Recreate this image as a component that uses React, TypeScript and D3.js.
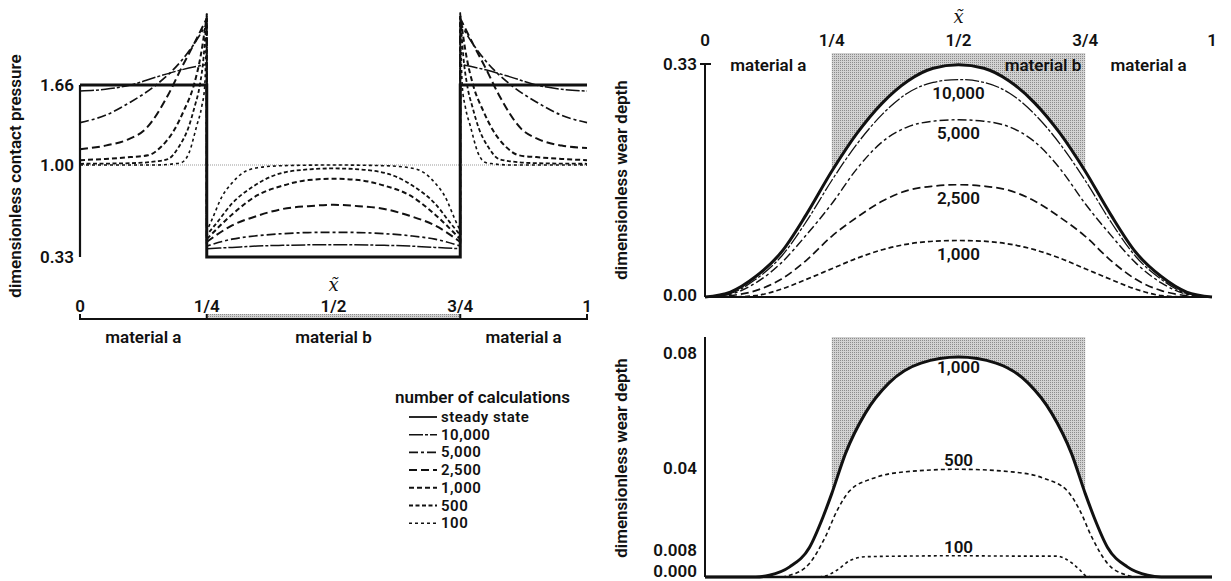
import React from "react";
import * as d3 from "d3";

type Pt = [number, number];

// Position along the contact, as a fraction of its length
const fractionTicks = [0, 0.25, 0.5, 0.75, 1];
const fractionLabels = ["0", "1/4", "1/2", "3/4", "1"];

const pressureTicks = [1.66, 1.0, 0.33];
const pressureTickLabels = ["1.66", "1.00", "0.33"];

const wearTopTicks = [0.33, 0.0];
const wearTopTickLabels = ["0.33", "0.00"];
const wearBottomTicks = [0.08, 0.04, 0.008, 0.0];
const wearBottomTickLabels = ["0.08", "0.04", "0.008", "0.000"];

const legendLabels = ["steady state", "10,000", "5,000", "2,500", "1,000", "500", "100"];

// Contact pressure: [material a (left), material b, material a (right)]
const pSteady: Pt[][] = [
  [[0, 1.66], [0.25, 1.66]],
  [[0.25, 0.33], [0.75, 0.33]],
  [[0.75, 1.66], [1, 1.66]],
];
const p10000: Pt[][] = [
  [[0, 1.61], [0.05, 1.625], [0.1, 1.66], [0.15, 1.725], [0.2, 1.785], [0.25, 1.83]],
  [[0.25, 0.39], [0.3, 0.4], [0.35, 0.41], [0.4, 0.415], [0.5, 0.42], [0.6, 0.415], [0.65, 0.41], [0.7, 0.4], [0.75, 0.39]],
  [[0.75, 1.83], [0.8, 1.785], [0.85, 1.725], [0.9, 1.66], [0.95, 1.625], [1, 1.61]],
];
const p5000: Pt[][] = [
  [[0, 1.35], [0.05, 1.41], [0.1, 1.52], [0.15, 1.66], [0.2, 1.86], [0.23, 2.03], [0.25, 2.17]],
  [[0.25, 0.41], [0.3, 0.46], [0.35, 0.485], [0.4, 0.5], [0.45, 0.508], [0.5, 0.51], [0.55, 0.508], [0.6, 0.5], [0.65, 0.485], [0.7, 0.46], [0.75, 0.41]],
  [[0.75, 2.17], [0.77, 2.03], [0.8, 1.86], [0.85, 1.66], [0.9, 1.52], [0.95, 1.41], [1, 1.35]],
];
const p2500: Pt[][] = [
  [[0, 1.13], [0.05, 1.16], [0.094, 1.21], [0.13, 1.3], [0.174, 1.58], [0.2, 1.8], [0.225, 2.0], [0.25, 2.21]],
  [[0.25, 0.44], [0.3, 0.56], [0.35, 0.63], [0.4, 0.68], [0.45, 0.7], [0.5, 0.71], [0.55, 0.7], [0.6, 0.68], [0.65, 0.63], [0.7, 0.56], [0.75, 0.44]],
  [[0.75, 2.21], [0.775, 2.0], [0.8, 1.8], [0.826, 1.58], [0.87, 1.3], [0.906, 1.21], [0.95, 1.16], [1, 1.14]],
];
const p1000: Pt[][] = [
  [[0, 1.04], [0.05, 1.05], [0.1, 1.065], [0.134, 1.08], [0.16, 1.15], [0.186, 1.29], [0.205, 1.45], [0.224, 1.65], [0.238, 1.9], [0.25, 2.23]],
  [[0.25, 0.46], [0.3, 0.64], [0.35, 0.78], [0.4, 0.85], [0.45, 0.89], [0.5, 0.9], [0.55, 0.89], [0.6, 0.85], [0.65, 0.78], [0.7, 0.64], [0.75, 0.46]],
  [[0.75, 2.23], [0.762, 1.9], [0.776, 1.65], [0.795, 1.45], [0.814, 1.29], [0.84, 1.15], [0.866, 1.08], [0.9, 1.065], [0.95, 1.05], [1, 1.04]],
];
const p500: Pt[][] = [
  [[0, 1.01], [0.1, 1.015], [0.15, 1.03], [0.174, 1.05], [0.195, 1.15], [0.214, 1.31], [0.226, 1.48], [0.236, 1.65], [0.244, 1.9], [0.25, 2.25]],
  [[0.25, 0.49], [0.27, 0.58], [0.3, 0.72], [0.34, 0.84], [0.38, 0.92], [0.44, 0.965], [0.5, 0.975], [0.56, 0.965], [0.62, 0.92], [0.66, 0.84], [0.7, 0.72], [0.73, 0.58], [0.75, 0.49]],
  [[0.75, 2.25], [0.756, 1.9], [0.764, 1.65], [0.774, 1.48], [0.786, 1.31], [0.805, 1.15], [0.826, 1.05], [0.85, 1.03], [0.9, 1.015], [1, 1.01]],
];
const p100: Pt[][] = [
  [[0, 1.0], [0.15, 1.0], [0.185, 1.01], [0.2, 1.02], [0.215, 1.1], [0.23, 1.32], [0.24, 1.48], [0.246, 1.65], [0.25, 2.26]],
  [[0.25, 0.52], [0.26, 0.6], [0.28, 0.77], [0.3, 0.87], [0.32, 0.94], [0.35, 0.98], [0.4, 0.995], [0.5, 1.0], [0.6, 0.995], [0.65, 0.98], [0.68, 0.94], [0.7, 0.87], [0.72, 0.77], [0.74, 0.6], [0.75, 0.52]],
  [[0.75, 2.26], [0.754, 1.65], [0.76, 1.48], [0.77, 1.32], [0.785, 1.1], [0.8, 1.02], [0.815, 1.01], [0.85, 1.0], [1, 1.0]],
];

// Wear depth, upper panel, sampled on a regular grid
const wearX = [0, 0.05, 0.1, 0.15, 0.2, 0.25, 0.3, 0.35, 0.4, 0.45, 0.5, 0.55, 0.6, 0.65, 0.7, 0.75, 0.8, 0.85, 0.9, 0.95, 1];
const wearSteady = [0, 0.007, 0.029, 0.063, 0.117, 0.178, 0.232, 0.275, 0.306, 0.324, 0.329, 0.324, 0.306, 0.275, 0.232, 0.178, 0.117, 0.063, 0.029, 0.007, 0];
const wear10000 = [0, 0.005, 0.025, 0.057, 0.107, 0.165, 0.217, 0.259, 0.289, 0.304, 0.308, 0.304, 0.289, 0.259, 0.217, 0.165, 0.107, 0.057, 0.025, 0.005, 0];
const wear5000 = [0, 0.004, 0.02, 0.048, 0.088, 0.132, 0.182, 0.22, 0.241, 0.249, 0.251, 0.249, 0.241, 0.22, 0.182, 0.132, 0.088, 0.048, 0.02, 0.004, 0];
const wear2500 = [0, 0.002, 0.009, 0.025, 0.052, 0.086, 0.113, 0.136, 0.151, 0.157, 0.159, 0.157, 0.151, 0.136, 0.113, 0.086, 0.052, 0.025, 0.009, 0.002, 0];
const wear1000 = [0, 0, 0.002, 0.011, 0.025, 0.04, 0.055, 0.067, 0.075, 0.079, 0.08, 0.079, 0.075, 0.067, 0.055, 0.04, 0.025, 0.011, 0.002, 0, 0];

// Wear depth, lower panel (early calculations)
const early1000: Pt[] = [
  [0, 0], [0.1, 0], [0.127, 0.0005], [0.167, 0.003], [0.206, 0.009], [0.233, 0.021], [0.25, 0.03], [0.277, 0.045], [0.316, 0.059], [0.363, 0.0696], [0.426, 0.0765], [0.5, 0.0786],
  [0.574, 0.0765], [0.637, 0.0696], [0.684, 0.059], [0.723, 0.045], [0.75, 0.03], [0.767, 0.021], [0.794, 0.009], [0.833, 0.003], [0.873, 0.0005], [0.9, 0], [1, 0],
];
const early500: Pt[] = [
  [0, 0], [0.15, 0], [0.167, 0.0005], [0.206, 0.004], [0.237, 0.013], [0.261, 0.0236], [0.285, 0.031], [0.332, 0.036], [0.395, 0.0385], [0.5, 0.0395],
  [0.605, 0.0385], [0.668, 0.036], [0.715, 0.031], [0.739, 0.0236], [0.763, 0.013], [0.794, 0.004], [0.833, 0.0005], [0.85, 0], [1, 0],
];
const early100: Pt[] = [
  [0, 0], [0.22, 0], [0.237, 0.0003], [0.26, 0.002], [0.285, 0.0048], [0.316, 0.006], [0.4, 0.0062], [0.5, 0.0063], [0.6, 0.0062], [0.693, 0.0062], [0.725, 0.004], [0.74, 0.002], [0.752, 0.0003], [0.77, 0], [1, 0],
];

const FONT = "Roboto, 'Open Sans', sans-serif";
const FS = 17;
const LEGEND_FS = 15;

const styles: Record<string, { dash: string; width: number }> = {
  "steady state": { dash: "none", width: 3 },
  "10,000": { dash: "14 2 3 2", width: 1.5 },
  "5,000": { dash: "9 3 3 3", width: 1.7 },
  "2,500": { dash: "8 4", width: 2 },
  "1,000": { dash: "5 3", width: 2 },
  "500": { dash: "4 2.5", width: 1.8 },
  "100": { dash: "3 3", width: 1.6 },
};

export default function App() {
  // left panel: contact pressure
  const xL = d3.scaleLinear().domain([0, 1]).range([80, 587]);
  const yL = d3.scaleLinear().domain([0.33, 1.0, 1.66]).range([257, 165, 85]);
  const lineL = d3
    .line<Pt>()
    .x((d) => xL(d[0]))
    .y((d) => yL(d[1]))
    .curve(d3.curveMonotoneX);
  const segPath = (segs: Pt[][]) =>
    segs
      .map((s, i) => {
        const d = lineL(s) || "";
        return i === 0 ? d : "L" + d.slice(1);
      })
      .join("");
  const pressureSeries: [string, Pt[][]][] = [
    ["100", p100],
    ["500", p500],
    ["1,000", p1000],
    ["2,500", p2500],
    ["5,000", p5000],
    ["10,000", p10000],
  ];

  // right panels: wear depth
  const xR = d3.scaleLinear().domain([0, 1]).range([705, 1212]);
  const yT = d3.scaleLinear().domain([0, 0.33]).range([297, 64]);
  const yB = d3.scaleLinear().domain([0, 0.008, 0.04, 0.08]).range([577, 550, 468, 353]);

  const gridPts = (vals: number[]): Pt[] => wearX.map((x, i) => [x, vals[i]]);
  const lineT = d3
    .line<Pt>()
    .x((d) => xR(d[0]))
    .y((d) => yT(d[1]))
    .curve(d3.curveMonotoneX);
  const areaT = d3
    .area<Pt>()
    .x((d) => xR(d[0]))
    .y0(yT(0))
    .y1((d) => yT(d[1]))
    .curve(d3.curveMonotoneX);
  const lineB = d3
    .line<Pt>()
    .x((d) => xR(d[0]))
    .y((d) => yB(d[1]))
    .curve(d3.curveMonotoneX);
  const areaB = d3
    .area<Pt>()
    .x((d) => xR(d[0]))
    .y0(yB(0))
    .y1((d) => yB(d[1]))
    .curve(d3.curveMonotoneX);

  const topSeries: [string, number[]][] = [
    ["1,000", wear1000],
    ["2,500", wear2500],
    ["5,000", wear5000],
    ["10,000", wear10000],
  ];
  const bottomSeries: [string, Pt[], number][] = [
    ["100", early100, -9],
    ["500", early500, -9],
  ];

  const textStyle = { fontFamily: FONT, fontWeight: 600, fill: "#111" } as const;
  const tilde = (x: number, y: number) => (
    <text x={x} y={y} textAnchor="middle" dominantBaseline="central" fontFamily="'DejaVu Serif', serif" fontStyle="italic" fontSize={18} fill="#111">
      x̃
    </text>
  );

  return (
    <svg width={1231} height={581} style={{ position: "absolute", left: 0, top: 0, background: "#fff" }}>
      <defs>
        <pattern id="stipple" width={2} height={2} patternUnits="userSpaceOnUse">
          <rect width={2} height={2} fill="#d2d2d2" />
          <rect width={1} height={1} fill="#8c8c8c" />
        </pattern>
      </defs>

      {/* ---------- contact pressure ---------- */}
      <line x1={xL(0)} x2={xL(1)} y1={yL(1)} y2={yL(1)} stroke="#999" strokeWidth={1} strokeDasharray="1 1" />
      <line x1={xL(0)} x2={xL(0)} y1={yL(1.66)} y2={yL(0.33)} stroke="#111" strokeWidth={2.2} />
      {pressureTicks.map((t, i) => (
        <text key={t} x={74} y={yL(t)} textAnchor="end" dominantBaseline="central" fontSize={FS} {...textStyle}>
          {pressureTickLabels[i]}
        </text>
      ))}
      <text transform="translate(15,176) rotate(-90)" textAnchor="middle" dominantBaseline="central" fontSize={FS} {...textStyle}>
        dimensionless contact pressure
      </text>
      {pressureSeries.map(([name, segs]) => (
        <path key={name} d={segPath(segs)} fill="none" stroke="#111" strokeWidth={styles[name].width} strokeDasharray={styles[name].dash} />
      ))}
      <path d={segPath(pSteady)} fill="none" stroke="#111" strokeWidth={3} strokeLinejoin="miter" />

      {/* position axis under the pressure panel */}
      {tilde(xL(0.5), 284)}
      <rect x={xL(0.25)} y={314} width={xL(0.75) - xL(0.25)} height={4} fill="url(#stipple)" />
      <line x1={xL(0)} x2={xL(1)} y1={319} y2={319} stroke="#111" strokeWidth={2} />
      {[0, 0.25, 0.75, 1].map((t) => (
        <line key={t} x1={xL(t)} x2={xL(t)} y1={314} y2={320} stroke="#111" strokeWidth={2} />
      ))}
      {fractionTicks.map((t, i) => (
        <text key={t} x={xL(t)} y={306} textAnchor="middle" dominantBaseline="central" fontSize={FS} {...textStyle}>
          {fractionLabels[i]}
        </text>
      ))}
      {[
        ["material a", 0.125],
        ["material b", 0.5],
        ["material a", 0.875],
      ].map(([label, pos], i) => (
        <text key={i} x={xL(pos as number)} y={337} textAnchor="middle" dominantBaseline="central" fontSize={FS} {...textStyle}>
          {label}
        </text>
      ))}

      {/* legend */}
      <text x={395} y={397} dominantBaseline="central" fontSize={FS} {...textStyle}>
        number of calculations
      </text>
      {legendLabels.map((name, i) => {
        const y = 417 + i * 17.7;
        return (
          <g key={name}>
            <line x1={409} x2={437} y1={y} y2={y} stroke="#111" strokeWidth={name === "steady state" ? 1.8 : styles[name].width} strokeDasharray={styles[name].dash} />
            <text x={441} y={y} dominantBaseline="central" fontSize={LEGEND_FS} letterSpacing={0.5} {...textStyle}>
              {name}
            </text>
          </g>
        );
      })}

      {/* ---------- wear depth, upper panel ---------- */}
      {tilde(xR(0.5), 16)}
      {fractionTicks.map((t, i) => (
        <text key={t} x={xR(t)} y={40} textAnchor="middle" dominantBaseline="central" fontSize={FS} {...textStyle}>
          {fractionLabels[i]}
        </text>
      ))}
      <rect x={xR(0.25)} y={53} width={xR(0.75) - xR(0.25)} height={yT(0) - 53} fill="url(#stipple)" />
      <path d={areaT(gridPts(wearSteady)) || ""} fill="#fff" />
      <text x={xR(0.125)} y={65} textAnchor="middle" dominantBaseline="central" fontSize={FS} {...textStyle}>
        material a
      </text>
      <text x={xR(0.75) - 4} y={65} textAnchor="end" dominantBaseline="central" fontSize={FS} {...textStyle}>
        material b
      </text>
      <text x={xR(0.875)} y={65} textAnchor="middle" dominantBaseline="central" fontSize={FS} {...textStyle}>
        material a
      </text>
      <line x1={xR(0)} x2={xR(0)} y1={yT(0.33)} y2={yT(0)} stroke="#111" strokeWidth={2} />
      <line x1={xR(0) - 5} x2={xR(0) + 6} y1={yT(0.33)} y2={yT(0.33)} stroke="#111" strokeWidth={2} />
      <line x1={xR(0)} x2={xR(1)} y1={yT(0)} y2={yT(0)} stroke="#111" strokeWidth={2} />
      {wearTopTicks.map((t, i) => (
        <text key={t} x={697} y={yT(t) - (t === 0 ? 2 : 0)} textAnchor="end" dominantBaseline="central" fontSize={FS} {...textStyle}>
          {wearTopTickLabels[i]}
        </text>
      ))}
      <text transform="translate(621,180) rotate(-90)" textAnchor="middle" dominantBaseline="central" fontSize={FS} {...textStyle}>
        dimensionless wear depth
      </text>
      {topSeries.map(([name, vals]) => (
        <g key={name}>
          <path d={lineT(gridPts(vals)) || ""} fill="none" stroke="#111" strokeWidth={styles[name].width * 0.85} strokeDasharray={styles[name].dash} />
          <text x={xR(0.5)} y={yT(d3.max(vals) as number) + 13} textAnchor="middle" dominantBaseline="central" fontSize={FS} {...textStyle}>
            {name}
          </text>
        </g>
      ))}
      <path d={lineT(gridPts(wearSteady)) || ""} fill="none" stroke="#111" strokeWidth={3} />

      {/* ---------- wear depth, lower panel ---------- */}
      <rect x={xR(0.25)} y={337} width={xR(0.75) - xR(0.25)} height={yB(0) - 337} fill="url(#stipple)" />
      <path d={areaB(early1000) || ""} fill="#fff" />
      <line x1={xR(0)} x2={xR(0)} y1={337} y2={yB(0)} stroke="#111" strokeWidth={2} />
      <line x1={xR(0)} x2={xR(1)} y1={yB(0)} y2={yB(0)} stroke="#111" strokeWidth={2.5} />
      {wearBottomTicks.map((t, i) => (
        <text key={t} x={697} y={yB(t) - (t === 0 ? 6 : 0)} textAnchor="end" dominantBaseline="central" fontSize={FS} {...textStyle}>
          {wearBottomTickLabels[i]}
        </text>
      ))}
      <text transform="translate(621,458) rotate(-90)" textAnchor="middle" dominantBaseline="central" fontSize={FS} {...textStyle}>
        dimensionless wear depth
      </text>
      {bottomSeries.map(([name, pts, off]) => (
        <g key={name}>
          <path d={lineB(pts) || ""} fill="none" stroke="#111" strokeWidth={1.6} strokeDasharray={name === "500" ? "4 3" : "3 3"} />
          <text x={xR(0.5)} y={yB(d3.max(pts, (d) => d[1]) as number) + off} textAnchor="middle" dominantBaseline="central" fontSize={FS} {...textStyle}>
            {name}
          </text>
        </g>
      ))}
      <path d={lineB(early1000) || ""} fill="none" stroke="#111" strokeWidth={3} />
      <text x={xR(0.5)} y={yB(d3.max(early1000, (d) => d[1]) as number) + 10} textAnchor="middle" dominantBaseline="central" fontSize={FS} {...textStyle}>
        1,000
      </text>
    </svg>
  );
}
